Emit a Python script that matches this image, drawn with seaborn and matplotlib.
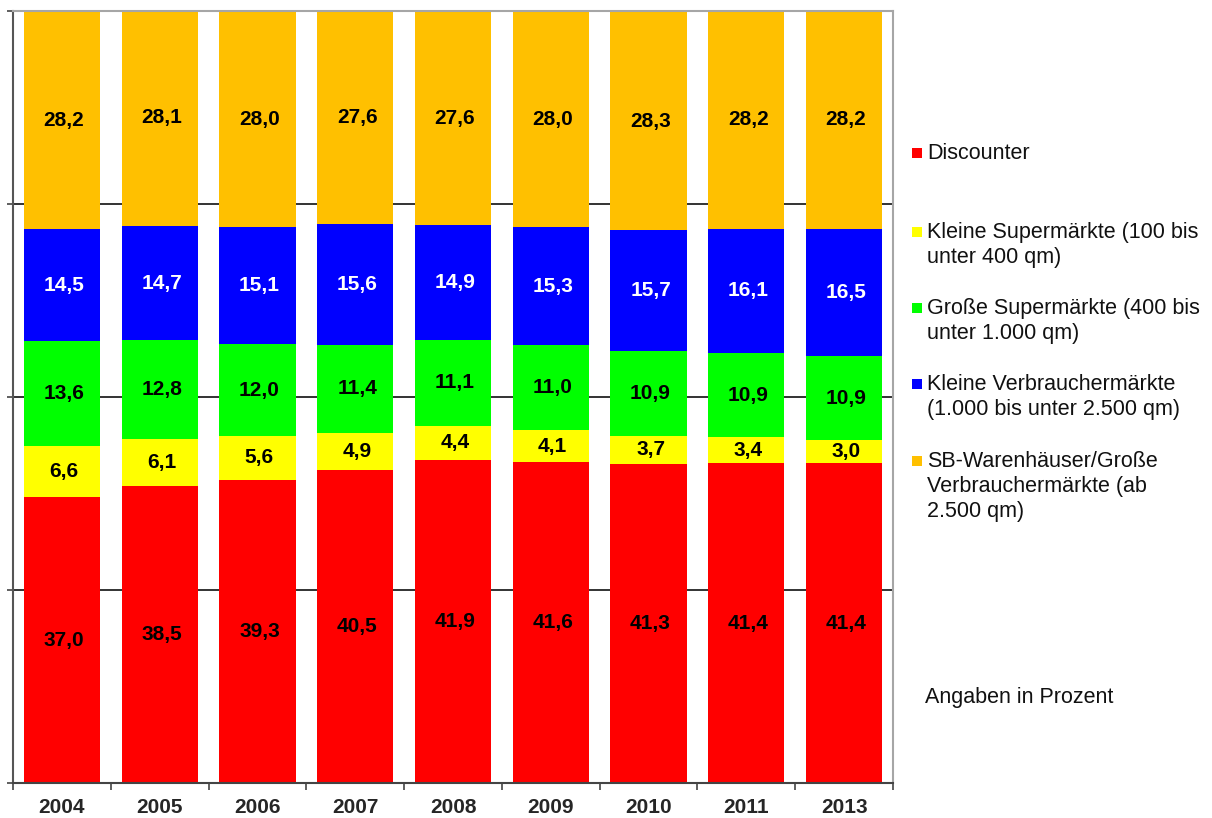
import numpy as np
import pandas as pd
import matplotlib
matplotlib.use('Agg')
import matplotlib.pyplot as plt
import seaborn as sns
from matplotlib.patches import Rectangle

# Werte aus dem Diagramm (Angaben in Prozent)
years = ['2004', '2005', '2006', '2007', '2008', '2009', '2010', '2011', '2013']
discounter = [37.0, 38.5, 39.3, 40.5, 41.9, 41.6, 41.3, 41.4, 41.4]
kleine_super = [6.6, 6.1, 5.6, 4.9, 4.4, 4.1, 3.7, 3.4, 3.0]
grosse_super = [13.6, 12.8, 12.0, 11.4, 11.1, 11.0, 10.9, 10.9, 10.9]
kleine_verbr = [14.5, 14.7, 15.1, 15.6, 14.9, 15.3, 15.7, 16.1, 16.5]
sb_waren = [28.2, 28.1, 28.0, 27.6, 27.6, 28.0, 28.3, 28.2, 28.2]

series_names = [
    'Discounter',
    'Kleine Supermärkte (100 bis\nunter 400 qm)',
    'Große Supermärkte (400 bis\nunter 1.000 qm)',
    'Kleine Verbrauchermärkte\n(1.000 bis unter 2.500 qm)',
    'SB-Warenhäuser/Große\nVerbrauchermärkte (ab\n2.500 qm)',
]
series_values = [discounter, kleine_super, grosse_super, kleine_verbr, sb_waren]
colors = ['#FF0000', '#FFFF00', '#00FF00', '#0000FF', '#FFC000']
label_colors = ['black', 'black', 'black', 'white', 'black']

sns.set_style('white')
plt.rcParams['font.family'] = ['Liberation Sans', 'DejaVu Sans']

fig = plt.figure(figsize=(12.12, 8.18), dpi=100)
ax = fig.add_axes([13 / 1212, 35 / 818, 880 / 1212, 772 / 818])

df = pd.DataFrame({'year': years})
for name, vals in zip(series_names, series_values):
    df[name] = vals
cum = df[series_names].cumsum(axis=1)

# gestapelte Balken: von oben nach unten überlagert zeichnen
for i in range(len(series_names) - 1, -1, -1):
    sns.barplot(x=df['year'], y=cum[series_names[i]], color=colors[i],
                width=0.78, saturation=1, ax=ax, zorder=2, linewidth=0)

# Datenbeschriftungen
for i, name in enumerate(series_names):
    for j in range(len(years)):
        mid = cum[name].iloc[j] - df[name].iloc[j] / 2
        ax.text(j + 0.02, mid, f"{df[name].iloc[j]:.1f}".replace('.', ','),
                ha='center', va='center', fontsize=15, fontweight='bold',
                color=label_colors[i], zorder=3)

ax.set_xlim(-0.5, len(years) - 0.5)
ax.set_ylim(0, 100)
ax.set_xlabel('')
ax.set_ylabel('')

ax.set_yticks([0, 25, 50, 75, 100])
ax.set_yticklabels([])
ax.grid(axis='y', color='#333333', linewidth=1.4, zorder=0)
ax.set_axisbelow(True)
ax.tick_params(axis='y', direction='out', length=4, width=1.2, color='#444444', left=True)

ax.set_xticks(range(len(years)))
ax.set_xticklabels(years, fontsize=15, fontweight='bold')
ax.set_xticks(np.arange(-0.5, len(years)), minor=True)
ax.tick_params(axis='x', which='major', length=0, pad=11)
ax.tick_params(axis='x', which='minor', direction='out', length=5, width=1.2,
               color='#444444', bottom=True)

for side in ['top', 'right']:
    ax.spines[side].set_color('#A6A6A6')
    ax.spines[side].set_linewidth(1.5)
ax.spines['left'].set_color('#555555')
ax.spines['left'].set_linewidth(1.5)
ax.spines['bottom'].set_color('#444444')
ax.spines['bottom'].set_linewidth(1.5)

# Legende rechts (Mitte der ersten Zeile je Eintrag)
legend_centers = [153, 232, 308, 384, 461]
for name, col, yc in zip(series_names, colors, legend_centers):
    fig.patches.append(Rectangle((912 / 1212, 1 - (yc + 5) / 818), 10 / 1212, 10 / 818,
                                 transform=fig.transFigure, facecolor=col,
                                 edgecolor='none'))
    fig.text(927 / 1212, 1 - (yc - 10) / 818, name, ha='left', va='top',
             fontsize=15.5, linespacing=1.25, color='#111111')

fig.text(925 / 1212, 1 - 697 / 818, 'Angaben in Prozent', ha='left', va='center',
         fontsize=15.5, color='#111111')

fig.savefig('out.png', dpi=100)
